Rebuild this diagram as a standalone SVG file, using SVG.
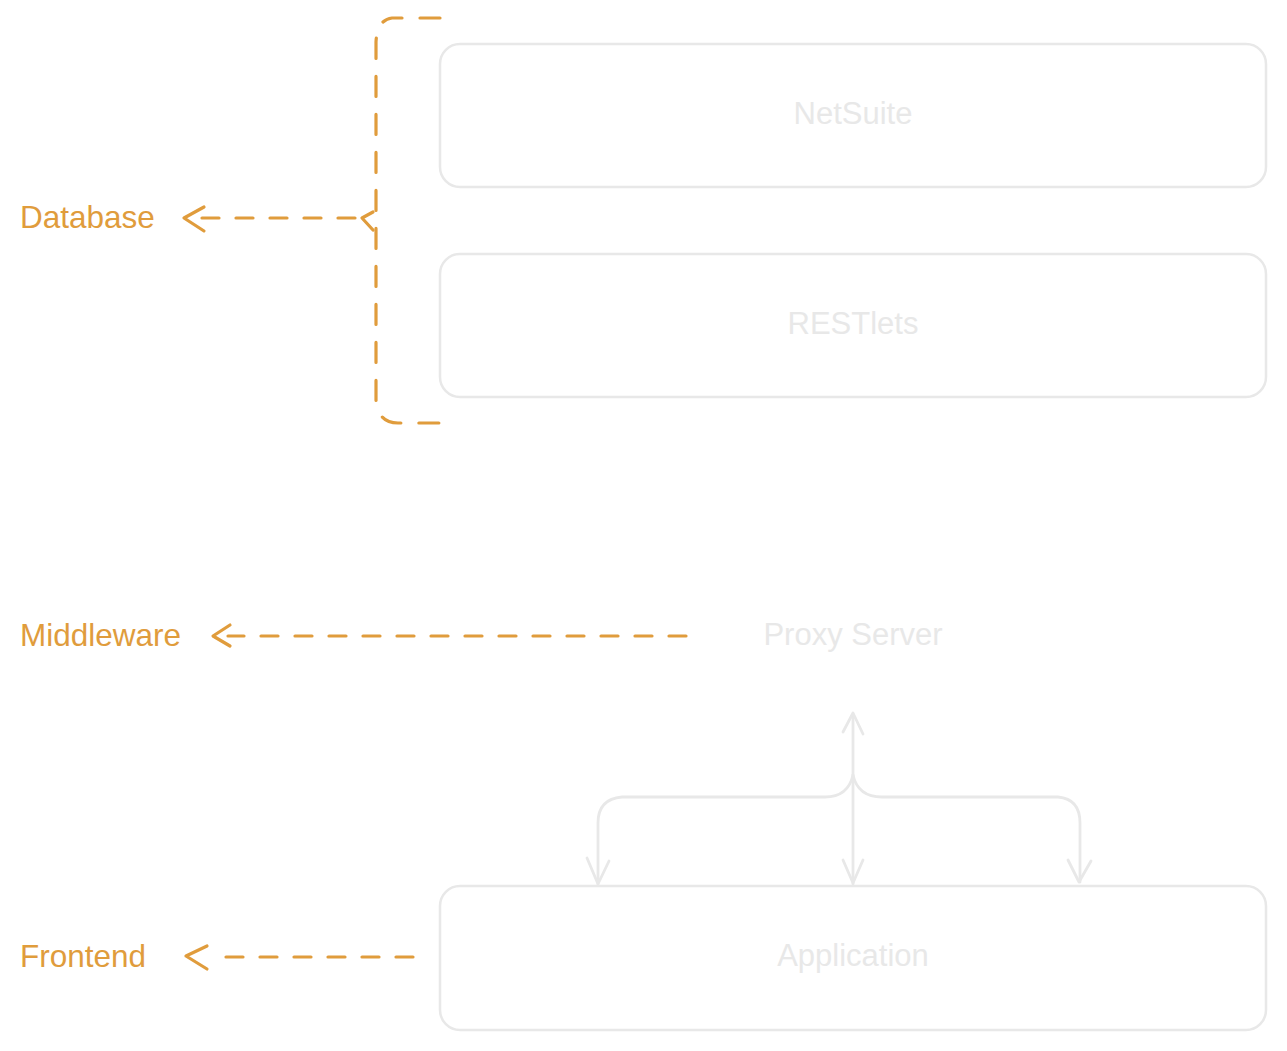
<svg xmlns="http://www.w3.org/2000/svg" width="1287" height="1051" viewBox="0 0 1287 1051">
<style>
.box{fill:none;stroke:#e8e8e8;stroke-width:2.5}
.gt{font-family:"Liberation Sans",Arial,sans-serif;font-size:31px;fill:#e8e8e8;text-anchor:middle}
.ot{font-family:"Liberation Sans",Arial,sans-serif;font-size:31.5px;fill:#e09c3c}
.od{fill:none;stroke:#e09c3c;stroke-width:3.2;stroke-linecap:round;stroke-dasharray:17 17}
.ob{fill:none;stroke:#e09c3c;stroke-width:3.2;stroke-linecap:round;stroke-dasharray:20 18}
.os{fill:none;stroke:#e09c3c;stroke-width:3.2;stroke-linecap:round;stroke-linejoin:round}
.gl{fill:none;stroke:#e8e8e8;stroke-width:2.8;stroke-linecap:round;stroke-linejoin:round}
</style>
<rect width="1287" height="1051" fill="#ffffff"/>
<g id="netsuite"><rect class="box" x="440" y="44" width="826" height="143" rx="20"/><text class="gt" x="853" y="124">NetSuite</text></g>
<g id="restlets"><rect class="box" x="440" y="254" width="826" height="143" rx="20"/><text class="gt" x="853" y="334">RESTlets</text></g>
<g id="proxy"><text class="gt" x="853" y="645">Proxy Server</text></g>
<g id="application"><rect class="box" x="440" y="886" width="826" height="144" rx="20"/><text class="gt" x="853" y="966">Application</text></g>
<g id="database"><text class="ot" x="20" y="228">Database</text></g>
<g id="middleware"><text class="ot" x="20" y="646">Middleware</text></g>
<g id="frontend"><text class="ot" x="20" y="967">Frontend</text></g>
<g id="connectors">
<path class="ob" d="M440,18 L392,18 Q377,20 376,42 L376,400 Q378,423 398,423 L450,423"/>
<path class="od" d="M355,218 L200,218"/>
<path class="os" d="M373,212 L362,218 L373,230"/>
<path class="os" d="M204,207 L184,218 L204,231"/>
<path class="od" d="M686,636 L228,636"/>
<path class="os" d="M230,625 L213,636 L230,646"/>
<path class="od" d="M413,957 L220,957"/>
<path class="os" d="M207,946 L186,956 L207,969"/>
<path class="gl" d="M853,884 L853,714"/>
<path class="gl" d="M843,732 L853,713 L863,734"/>
<path class="gl" d="M843,860 L853,883 L863,860"/>
<path class="gl" d="M853,775 Q848,797 825,797 L622,797 Q598,799 598,823 L598,884"/>
<path class="gl" d="M587,858 L598,884 L609,861"/>
<path class="gl" d="M853,775 Q858,797 882,797 L1058,797 Q1080,799 1080,823 L1080,882"/>
<path class="gl" d="M1068,860 L1079,882 L1091,861"/>
</g>
</svg>
